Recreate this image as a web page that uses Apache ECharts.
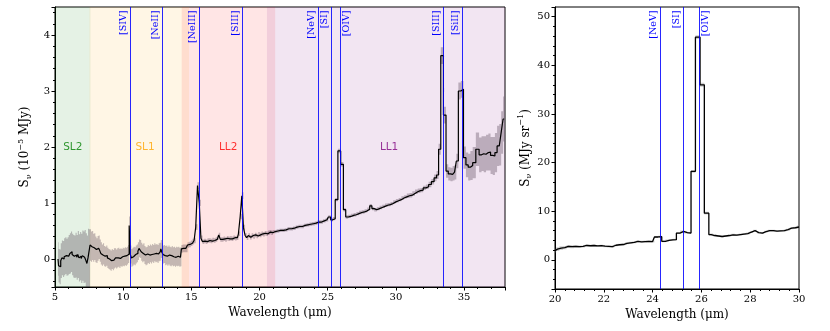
<!DOCTYPE html>
<html>
<head>
<meta charset="utf-8">
<script src="https://cdn.jsdelivr.net/npm/echarts@6/dist/echarts.min.js"></script>
<style>
  html, body { margin: 0; padding: 0; background: #fff; }
  #chart { width: 830px; height: 331px; }
</style>
</head>
<body>
<div id="chart"></div>
<script>
// left panel spectrum (10^-5 MJy)
const leftWave = [
  5.22, 5.30, 5.38, 5.46, 5.55, 5.63, 5.71, 5.80, 5.88, 5.96, 6.05, 6.13, 6.21, 6.30, 6.38, 6.46, 6.55, 6.63, 6.71, 6.80,
  6.88, 6.96, 7.05, 7.13, 7.21, 7.30, 7.38, 7.46, 7.54,
  7.60, 7.68, 7.76, 7.84, 7.92, 8.00, 8.08, 8.16, 8.24, 8.32, 8.40, 8.48, 8.56, 8.64, 8.72, 8.80, 8.88, 8.96, 9.04, 9.12,
  9.20, 9.28, 9.36, 9.44, 9.52, 9.60, 9.68, 9.76, 9.84, 9.92, 10.00, 10.08, 10.16, 10.24, 10.32, 10.40, 10.48, 10.56, 10.64, 10.72,
  10.80, 10.88, 10.96, 11.04, 11.12, 11.20, 11.28, 11.36, 11.44, 11.52, 11.60, 11.68, 11.76, 11.84, 11.92, 12.00, 12.08, 12.16, 12.24, 12.32,
  12.40, 12.48, 12.56, 12.64, 12.72, 12.80, 12.88, 12.96, 13.04, 13.12, 13.20, 13.28, 13.36, 13.44, 13.52, 13.60, 13.68, 13.76, 13.84, 13.92,
  14.00, 14.08, 14.16, 14.24,
  14.30, 14.42, 14.54, 14.66, 14.78, 14.90, 15.02, 15.14, 15.26, 15.38, 15.52, 15.64, 15.76, 15.88, 16.00, 16.12, 16.24, 16.36, 16.48, 16.60,
  16.72, 16.84, 16.96, 17.06, 17.18, 17.30, 17.42, 17.54, 17.66, 17.78, 17.90, 18.02, 18.14, 18.26, 18.38, 18.52, 18.64, 18.76, 18.88, 19.00,
  19.12, 19.24, 19.36, 19.48, 19.60, 19.72, 19.84, 19.96, 20.08, 20.20, 20.32, 20.44, 20.56, 20.68, 20.80, 20.92, 21.04,
  21.15, 21.35, 21.55, 21.75, 21.95, 22.15, 22.35, 22.55, 22.75, 22.95, 23.15, 23.35, 23.55, 23.75, 23.95, 24.15, 24.35, 24.55, 24.75, 24.95,
  25.13, 25.30, 25.45, 25.65, 25.84, 26.06, 26.24, 26.40, 26.60, 26.80, 27.00, 27.20, 27.40, 27.60, 27.80, 28.00, 28.16, 28.32, 28.50, 28.70,
  28.90, 29.10, 29.30, 29.50, 29.70, 29.90, 30.10, 30.30, 30.50, 30.70, 30.90, 31.10, 31.30, 31.50, 31.70, 31.90, 32.10, 32.30, 32.50, 32.70,
  32.90, 33.06, 33.20, 33.38, 33.59, 33.76, 33.92, 34.08, 34.24, 34.36, 34.50, 34.66, 34.86, 35.05, 35.22, 35.38, 35.54, 35.72, 36.00, 36.20,
  36.36, 36.52, 36.70, 36.86, 37.02, 37.18, 37.34, 37.50, 37.66, 37.78, 37.94
];
const leftFlux = [
  0.00, -0.12, -0.14, -0.03, 0.02, 0.00, 0.04, 0.06, 0.03, 0.05, 0.08, 0.10, 0.13, 0.08, 0.05, 0.04, 0.07, 0.03, 0.08, 0.02,
  0.05, 0.01, 0.06, 0.03, 0.05, -0.02, -0.08, 0.02, 0.01,
  0.25, 0.22, 0.24, 0.20, 0.22, 0.17, 0.15, 0.19, 0.21, 0.15, 0.10, 0.07, 0.09, 0.05, 0.04, 0.06, 0.02, 0.00, -0.01, -0.03,
  0.00, -0.02, 0.01, 0.02, 0.00, 0.02, 0.03, 0.01, 0.03, 0.02, 0.04, 0.03, 0.05, 0.04, 0.06, 0.09, 0.60, 0.08, 0.02, 0.04,
  0.06, 0.05, 0.08, 0.10, 0.14, 0.19, 0.18, 0.13, 0.10, 0.12, 0.07, 0.05, 0.06, 0.09, 0.07, 0.10, 0.08, 0.11, 0.09, 0.12,
  0.10, 0.11, 0.09, 0.12, 0.13, 0.18, 0.12, 0.08, 0.09, 0.06, 0.07, 0.05, 0.07, 0.05, 0.04, 0.06, 0.04, 0.05, 0.03, 0.05,
  0.04, 0.05, 0.03, 0.04,
  0.18, 0.19, 0.19, 0.19, 0.25, 0.26, 0.28, 0.31, 0.33, 0.57, 1.31, 1.00, 0.37, 0.31, 0.32, 0.31, 0.33, 0.33, 0.32, 0.34,
  0.33, 0.35, 0.38, 0.43, 0.35, 0.35, 0.36, 0.35, 0.37, 0.36, 0.37, 0.36, 0.38, 0.37, 0.38, 0.45, 0.76, 1.13, 0.56, 0.42,
  0.38, 0.42, 0.39, 0.42, 0.40, 0.43, 0.41, 0.44, 0.43, 0.45, 0.44, 0.46, 0.45, 0.47, 0.48, 0.47, 0.49,
  0.49, 0.50, 0.51, 0.51, 0.52, 0.54, 0.54, 0.55, 0.57, 0.58, 0.58, 0.60, 0.61, 0.62, 0.63, 0.64, 0.66, 0.66, 0.68, 0.70,
  0.75, 0.70, 0.72, 1.06, 1.93, 1.69, 0.88, 0.75, 0.76, 0.78, 0.79, 0.81, 0.83, 0.84, 0.86, 0.89, 0.95, 0.90, 0.88, 0.90,
  0.92, 0.94, 0.96, 0.97, 0.99, 1.02, 1.04, 1.06, 1.09, 1.11, 1.13, 1.14, 1.17, 1.20, 1.22, 1.23, 1.27, 1.29, 1.33, 1.38,
  1.45, 1.50, 1.96, 3.63, 2.57, 1.57, 1.52, 1.51, 1.53, 1.55, 1.75, 3.00, 3.03, 1.81, 1.68, 1.64, 1.67, 1.72, 1.96, 1.86,
  1.88, 1.87, 1.90, 1.91, 1.85, 1.84, 1.90, 2.02, 2.04, 2.26, 2.50
];
const leftErr = [
  0.30, 0.30, 0.31, 0.31, 0.31, 0.32, 0.33, 0.33, 0.33, 0.34, 0.35, 0.36, 0.36, 0.37, 0.38, 0.38, 0.40, 0.40, 0.42, 0.42,
  0.43, 0.44, 0.45, 0.46, 0.47, 0.48, 0.50, 0.52, 0.52,
  0.28, 0.27, 0.26, 0.25, 0.24, 0.23, 0.22, 0.22, 0.21, 0.20, 0.20, 0.19, 0.19, 0.18, 0.18, 0.18, 0.18, 0.18, 0.18, 0.18,
  0.18, 0.18, 0.18, 0.17, 0.17, 0.17, 0.17, 0.17, 0.16, 0.16, 0.16, 0.16, 0.16, 0.16, 0.16, 0.16, 0.16, 0.16, 0.16, 0.16,
  0.16, 0.16, 0.16, 0.16, 0.16, 0.16, 0.16, 0.16, 0.16, 0.16, 0.16, 0.16, 0.16, 0.16, 0.16, 0.16, 0.16, 0.16, 0.16, 0.16,
  0.16, 0.16, 0.16, 0.16, 0.16, 0.16, 0.16, 0.16, 0.16, 0.17, 0.17, 0.17, 0.17, 0.17, 0.17, 0.17, 0.17, 0.17, 0.17, 0.17,
  0.17, 0.17, 0.17, 0.17,
  0.07, 0.07, 0.07, 0.07, 0.05, 0.05, 0.05, 0.05, 0.05, 0.05, 0.06, 0.06, 0.05, 0.04, 0.04, 0.04, 0.04, 0.04, 0.04, 0.04,
  0.04, 0.04, 0.04, 0.04, 0.04, 0.04, 0.04, 0.04, 0.04, 0.04, 0.04, 0.04, 0.04, 0.04, 0.04, 0.04, 0.05, 0.06, 0.05, 0.04,
  0.04, 0.04, 0.04, 0.04, 0.04, 0.04, 0.04, 0.04, 0.04, 0.04, 0.04, 0.04, 0.04, 0.04, 0.04, 0.04, 0.03,
  0.03, 0.03, 0.03, 0.03, 0.03, 0.03, 0.03, 0.03, 0.03, 0.03, 0.03, 0.03, 0.03, 0.03, 0.03, 0.03, 0.03, 0.03, 0.03, 0.03,
  0.03, 0.03, 0.03, 0.03, 0.04, 0.04, 0.03, 0.03, 0.03, 0.03, 0.03, 0.03, 0.03, 0.03, 0.03, 0.03, 0.03, 0.03, 0.03, 0.03,
  0.03, 0.03, 0.03, 0.03, 0.03, 0.03, 0.03, 0.03, 0.03, 0.03, 0.04, 0.04, 0.04, 0.04, 0.04, 0.04, 0.04, 0.04, 0.05, 0.05,
  0.06, 0.07, 0.10, 0.15, 0.15, 0.12, 0.12, 0.12, 0.13, 0.13, 0.13, 0.15, 0.15, 0.20, 0.22, 0.24, 0.26, 0.28, 0.30, 0.31,
  0.31, 0.32, 0.32, 0.33, 0.33, 0.34, 0.35, 0.36, 0.37, 0.38, 0.40
];

// right panel spectrum (MJy sr^-1)
const rightWave = [
  20.00, 20.10, 20.25, 20.40, 20.55, 20.70, 20.85, 21.00, 21.15, 21.30, 21.45, 21.60, 21.75, 21.90, 22.05, 22.20, 22.35, 22.50, 22.65, 22.80,
  22.95, 23.10, 23.25, 23.40, 23.55, 23.70, 23.85, 24.00, 24.15, 24.30, 24.45, 24.60, 24.75, 24.90, 25.05, 25.20, 25.35, 25.50, 25.65, 25.86,
  26.03, 26.21, 26.40, 26.55, 26.70, 26.85, 27.00, 27.15, 27.30, 27.45, 27.60, 27.75, 27.90, 28.05, 28.20, 28.35, 28.50, 28.65, 28.80, 28.95,
  29.10, 29.25, 29.40, 29.55, 29.70, 29.85, 30.00
];
const rightFlux = [
  1.9, 2.2, 2.4, 2.5, 2.75, 2.7, 2.75, 2.7, 2.75, 2.95, 2.9, 2.95, 2.85, 2.9, 2.8, 2.75, 2.7, 3.0, 3.1, 3.15,
  3.4, 3.5, 3.6, 3.8, 3.7, 3.75, 3.8, 3.75, 4.7, 4.75, 3.8, 4.0, 4.1, 4.15, 5.5, 5.85, 5.6, 5.5, 18.2, 45.8,
  36.0, 9.6, 5.2, 5.0, 4.9, 4.8, 4.9, 5.0, 5.15, 5.1, 5.2, 5.3, 5.4, 5.7, 6.0, 5.6, 5.5, 5.8, 6.0, 6.0,
  5.9, 5.95, 6.0, 6.2, 6.5, 6.6, 6.75
];
const rightErr = [
  0.4, 0.4, 0.4, 0.35, 0.3, 0.3, 0.25, 0.25, 0.2, 0.2, 0.2, 0.2, 0.2, 0.2, 0.2, 0.2, 0.2, 0.2, 0.2, 0.2,
  0.2, 0.2, 0.2, 0.2, 0.2, 0.2, 0.2, 0.2, 0.2, 0.2, 0.2, 0.2, 0.2, 0.2, 0.2, 0.2, 0.2, 0.2, 0.3, 0.4,
  0.4, 0.3, 0.2, 0.2, 0.2, 0.2, 0.2, 0.2, 0.2, 0.2, 0.2, 0.2, 0.2, 0.2, 0.2, 0.2, 0.2, 0.2, 0.2, 0.2,
  0.2, 0.2, 0.2, 0.2, 0.2, 0.2, 0.3
];

// IRS modules
const moduleNames = ["SL2", "SL1", "LL2", "LL1"];
const moduleStart = [5.0, 7.53, 14.29, 20.54];
const moduleEnd = [7.6, 14.83, 21.15, 38.0];
const moduleLabelAt = [6.3, 11.6, 17.7, 29.5];
const moduleColors = ["#008000", "#ffa500", "#ff0000", "#800080"];
const moduleFill = ["rgba(0,128,0,0.1)", "rgba(255,165,0,0.1)", "rgba(255,0,0,0.1)", "rgba(128,0,128,0.1)"];

// emission lines
const lineNames = ["[SIV]", "[NeII]", "[NeIII]", "[SIII]", "[NeV]", "[SI]", "[OIV]", "[SIII]", "[SiII]"];
const lineWave = [10.51, 12.81, 15.56, 18.71, 24.32, 25.25, 25.89, 33.48, 34.82];
const rightLineNames = ["[NeV]", "[SI]", "[OIV]"];
const rightLineWave = [24.32, 25.25, 25.89];
const labelOnRight = ["[OIV]"];

const serif = "DejaVu Serif";
const lineBlue = "rgba(0,0,255,0.85)";

function pairs(xs, ys) {
  return xs.map((x, i) => [x, ys[i]]);
}

// error band as one step polygon (steps-mid like the line)
function bandSeries(xs, ys, es, xi, color) {
  const rows = xs.map((x, i) => [x, ys[i] - es[i], ys[i] + es[i]]);
  return {
    type: "custom",
    xAxisIndex: xi,
    yAxisIndex: xi,
    data: rows,
    clip: true,
    silent: true,
    z: 3,
    encode: { x: 0, y: [1, 2] },
    renderItem(params, api) {
      if (params.dataIndex !== 0) return null;
      const n = rows.length;
      const edge = i => {
        if (i <= 0) return rows[0][0];
        if (i >= n) return rows[n - 1][0];
        return (rows[i - 1][0] + rows[i][0]) / 2;
      };
      const top = [], bot = [];
      for (let i = 0; i < n; i++) {
        const a = edge(i), b = edge(i + 1);
        top.push(api.coord([a, rows[i][2]]), api.coord([b, rows[i][2]]));
        bot.push(api.coord([a, rows[i][1]]), api.coord([b, rows[i][1]]));
      }
      return {
        type: "polygon",
        shape: { points: top.concat(bot.reverse()) },
        style: { fill: color }
      };
    }
  };
}

// vertical emission-line markers with rotated names
function lineSeries(names, waves, xi) {
  return {
    type: "custom",
    xAxisIndex: xi,
    yAxisIndex: xi,
    data: waves.map(w => [w, 0]),
    silent: true,
    z: 6,
    renderItem(params, api) {
      const cs = params.coordSys;
      const x = Math.round(api.coord([api.value(0), 0])[0]) + 0.5;
      const name = names[params.dataIndex];
      const right = labelOnRight.includes(name);
      return {
        type: "group",
        children: [
          {
            type: "line",
            shape: { x1: x, y1: cs.y, x2: x, y2: cs.y + cs.height },
            style: { stroke: lineBlue, lineWidth: 1 }
          },
          {
            type: "text",
            x: right ? x + 1.5 : x - 1.5,
            y: cs.y + 3.5,
            rotation: Math.PI / 2,
            style: {
              text: name,
              fill: "#0000ff",
              font: "9.5px " + serif,
              align: "right",
              verticalAlign: right ? "top" : "bottom"
            }
          }
        ]
      };
    }
  };
}

const axisCommon = {
  axisLine: { onZero: false, lineStyle: { color: "#000", width: 1 } },
  axisTick: { length: 3.5, lineStyle: { color: "#000" } },
  minorTick: { show: true, splitNumber: 5, length: 2, lineStyle: { color: "#000" } },
  splitLine: { show: false },
  axisLabel: { color: "#000", fontFamily: serif, fontSize: 10, margin: 5 },
  nameTextStyle: { color: "#000", fontFamily: serif, fontSize: 12 }
};

const richName = {
  n: { fontFamily: serif, fontSize: 12, color: "#000", lineHeight: 16 },
  sub: { fontFamily: serif, fontSize: 8, color: "#000", verticalAlign: "bottom", lineHeight: 10 },
  sup: { fontFamily: serif, fontSize: 8, color: "#000", verticalAlign: "top", lineHeight: 10 }
};

const chart = echarts.init(document.getElementById("chart"));

const option = {
  animation: false,
  grid: [
    { left: 55, right: 325, top: 7, bottom: 44, show: true, borderColor: "#000", borderWidth: 1 },
    { left: 555, right: 31, top: 7, bottom: 42, show: true, borderColor: "#000", borderWidth: 1 }
  ],
  xAxis: [
    Object.assign({}, axisCommon, {
      type: "value", gridIndex: 0, min: 5, max: 38, interval: 5,
      name: "Wavelength (μm)", nameLocation: "middle", nameGap: 19,
      axisLabel: Object.assign({}, axisCommon.axisLabel, { showMaxLabel: false })
    }),
    Object.assign({}, axisCommon, {
      type: "value", gridIndex: 1, min: 20, max: 30, interval: 2,
      name: "Wavelength (μm)", nameLocation: "middle", nameGap: 19
    })
  ],
  yAxis: [
    Object.assign({}, axisCommon, {
      type: "value", gridIndex: 0, min: -0.5, max: 4.5, splitNumber: 5,
      name: "{n|S}{sub|ν}{n| (10}{sup|−5}{n| MJy)}", nameLocation: "middle", nameGap: 11,
      nameTextStyle: { rich: richName },
      axisLabel: Object.assign({}, axisCommon.axisLabel, { showMinLabel: false, showMaxLabel: false })
    }),
    Object.assign({}, axisCommon, {
      type: "value", gridIndex: 1, min: -6, max: 52, splitNumber: 5,
      name: "{n|S}{sub|ν}{n| (MJy sr}{sup|−1}{n|)}", nameLocation: "middle", nameGap: 18,
      nameTextStyle: { rich: richName },
      axisLabel: Object.assign({}, axisCommon.axisLabel, { showMinLabel: false, showMaxLabel: false })
    })
  ],
  series: [
    // module coverage bands
    {
      type: "line",
      xAxisIndex: 0,
      yAxisIndex: 0,
      data: [],
      z: 1,
      silent: true,
      markArea: {
        silent: true,
        data: moduleNames.map((m, i) => [
          { xAxis: moduleStart[i], itemStyle: { color: moduleFill[i] } },
          { xAxis: moduleEnd[i] }
        ])
      }
    },
    bandSeries(leftWave, leftFlux, leftErr, 0, "rgba(60,40,60,0.3)"),
    {
      type: "line",
      xAxisIndex: 0,
      yAxisIndex: 0,
      data: pairs(leftWave, leftFlux),
      step: "middle",
      symbol: "none",
      lineStyle: { color: "#000", width: 1.2 },
      z: 4
    },
    lineSeries(lineNames, lineWave, 0),
    {
      type: "scatter",
      xAxisIndex: 0,
      yAxisIndex: 0,
      symbolSize: 0,
      silent: true,
      z: 5,
      data: moduleNames.map((m, i) => ({
        name: m,
        value: [moduleLabelAt[i], 2.0],
        label: { color: moduleColors[i] }
      })),
      label: {
        show: true,
        position: "inside",
        formatter: p => p.name,
        fontFamily: "DejaVu Sans",
        fontSize: 10.5
      }
    },
    bandSeries(rightWave, rightFlux, rightErr, 1, "rgba(120,120,120,0.35)"),
    {
      type: "line",
      xAxisIndex: 1,
      yAxisIndex: 1,
      data: pairs(rightWave, rightFlux),
      step: "middle",
      symbol: "none",
      lineStyle: { color: "#000", width: 1.3 },
      z: 4
    },
    lineSeries(rightLineNames, rightLineWave, 1)
  ]
};

chart.setOption(option);
</script>
</body>
</html>
